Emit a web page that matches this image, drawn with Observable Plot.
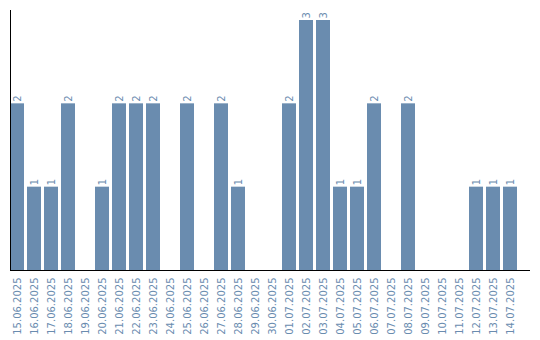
<!DOCTYPE html>
<html>
<head>
<meta charset="utf-8">
<script src="https://cdn.jsdelivr.net/npm/d3@7"></script>
<script src="https://cdn.jsdelivr.net/npm/@observablehq/plot@0.6"></script>
<style>
  html, body { margin: 0; padding: 0; background: #fff; }
</style>
</head>
<body>
<div id="chart"></div>
<script>
const dates = ["15.06.2025","16.06.2025","17.06.2025","18.06.2025","19.06.2025","20.06.2025","21.06.2025","22.06.2025","23.06.2025","24.06.2025","25.06.2025","26.06.2025","27.06.2025","28.06.2025","29.06.2025","30.06.2025","01.07.2025","02.07.2025","03.07.2025","04.07.2025","05.07.2025","06.07.2025","07.07.2025","08.07.2025","09.07.2025","10.07.2025","11.07.2025","12.07.2025","13.07.2025","14.07.2025"];
const counts = [2,1,1,2,0,1,2,2,2,0,2,0,2,1,0,0,2,3,3,1,1,2,0,2,0,0,0,1,1,1];

const data = dates.map((d, i) => ({date: d, value: counts[i]}));
const color = "#6a8caf";

const chart = Plot.plot({
  width: 540,
  height: 340,
  marginTop: 10,
  marginBottom: 70,
  marginLeft: 10,
  marginRight: 10,
  style: {fontFamily: "DejaVu Sans", fontSize: "10px", background: "#fff"},
  x: {type: "band", domain: dates, paddingInner: 0.176, paddingOuter: 0.382, align: 0, axis: null},
  y: {domain: [0, 3.12], axis: null},
  marks: [
    Plot.barY(data, {x: "date", y: "value", fill: color}),
    Plot.text(data.filter(d => d.value > 0), {
      x: "date", y: "value", text: d => String(d.value),
      rotate: -90, textAnchor: "start", lineAnchor: "middle",
      dy: -2, fill: color, fontSize: 10
    }),
    Plot.axisX({tickSize: 0, tickRotate: -90, tickPadding: 7, color: color, fontSize: 10, label: null}),
    Plot.ruleY([0], {stroke: "#000", strokeWidth: 1}),
    Plot.frame({anchor: "left", stroke: "#000", strokeWidth: 1})
  ]
});
document.getElementById("chart").appendChild(chart);
</script>
</body>
</html>
